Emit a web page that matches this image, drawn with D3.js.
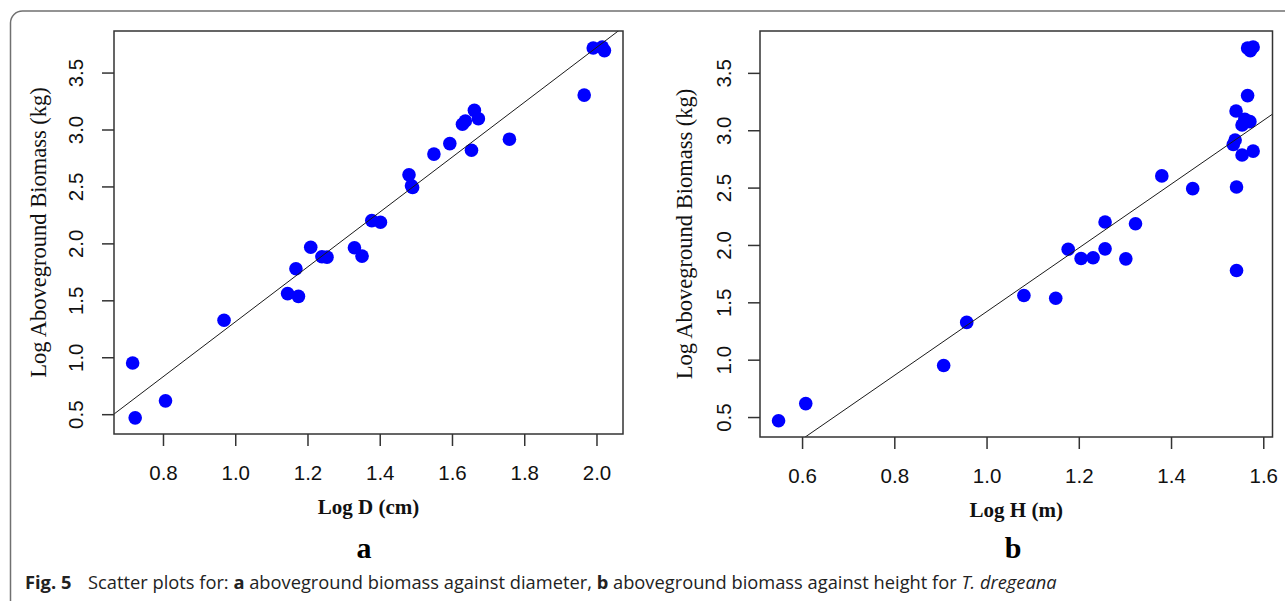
<!DOCTYPE html>
<html lang="en">
<head>
  <meta charset="UTF-8">
  <title>Fig. 5 - Scatter plots for T. dregeana</title>
  <script src="https://d3js.org/d3.v7.min.js"></script>
  <style>
    body {
      margin: 0;
      background-color: #fff;
    }
    svg {
      display: block;
    }
  </style>
</head>
<body>
<script>
  // one entry per tree, the same order in every array
  const logAGB = [0.468, 0.617, 0.949, 1.325, 1.535, 1.559, 1.777, 1.879, 1.882, 1.888,
                  1.962, 1.966, 2.185, 2.200, 2.491, 2.505, 2.602, 2.784, 2.818, 2.876,
                  2.915, 3.046, 3.075, 3.095, 3.168, 3.302, 3.693, 3.716, 3.725];
  const logD   = [0.723, 0.807, 0.716, 0.969, 1.175, 1.145, 1.168, 1.254, 1.240, 1.351,
                  1.330, 1.209, 1.402, 1.378, 1.491, 1.488, 1.481, 1.550, 1.654, 1.594,
                  1.759, 1.629, 1.637, 1.673, 1.662, 1.966, 2.022, 1.991, 2.016];
  const logH   = [0.549, 0.608, 0.907, 0.957, 1.150, 1.081, 1.542, 1.302, 1.205, 1.231,
                  1.177, 1.257, 1.323, 1.257, 1.447, 1.542, 1.380, 1.554, 1.578, 1.535,
                  1.539, 1.554, 1.571, 1.560, 1.541, 1.566, 1.572, 1.566, 1.578];

  // fitted lines: logAGB = a + b * x
  const fitD = { a: -1.100, b: 2.410 };
  const fitH = { a: -1.360, b: 2.778 };

  const xTicksD = [0.8, 1.0, 1.2, 1.4, 1.6, 1.8, 2.0];
  const xTicksH = [0.6, 0.8, 1.0, 1.2, 1.4, 1.6];
  const yTicks  = [0.5, 1.0, 1.5, 2.0, 2.5, 3.0, 3.5];

  const W = 1285, H = 601;
  const yDomain = [0.326, 3.865];
  const fmt = d3.format(".1f");

  const svg = d3.select("body").append("svg")
    .attr("width", W)
    .attr("height", H);

  // outer figure frame (runs off the right and bottom edges)
  svg.append("rect")
    .attr("x", 10.5).attr("y", 11)
    .attr("width", 1320).attr("height", 640)
    .attr("rx", 12)
    .attr("fill", "none")
    .attr("stroke", "#707070")
    .attr("stroke-width", 1.5);

  const drawPanel = (opt) => {
    const { left, right, top, bottom } = opt.box;
    const x = d3.scaleLinear().domain(opt.xDomain).range([left, right]);
    const y = d3.scaleLinear().domain(yDomain).range([bottom, top]);
    const g = svg.append("g");

    g.append("clipPath").attr("id", opt.id + "-clip")
      .append("rect")
      .attr("x", left).attr("y", top)
      .attr("width", right - left).attr("height", bottom - top);

    g.selectAll("circle")
      .data(d3.zip(opt.xs, logAGB))
      .join("circle")
      .attr("cx", d => x(d[0]))
      .attr("cy", d => y(d[1]))
      .attr("r", 6.8)
      .attr("fill", "#0000ff");

    g.append("path")
      .datum(opt.xDomain)
      .attr("clip-path", `url(#${opt.id}-clip)`)
      .attr("d", d3.line().x(d => x(d)).y(d => y(opt.fit.a + opt.fit.b * d)))
      .attr("fill", "none")
      .attr("stroke", "#1a1a1a")
      .attr("stroke-width", 1);

    const xAxis = g.append("g")
      .attr("transform", `translate(0,${bottom})`)
      .attr("color", "#333")
      .call(d3.axisBottom(x).tickValues(opt.xTicks).tickFormat(fmt).tickSize(12).tickSizeOuter(0));
    xAxis.select(".domain").remove();
    xAxis.selectAll("line").attr("stroke-width", 1.5);
    xAxis.selectAll("text")
      .attr("y", 39).attr("dy", "0.35em")
      .attr("fill", "#111")
      .style("font-family", "'Liberation Sans', Arial, sans-serif")
      .style("font-size", "20.5px");

    const yAxis = g.append("g")
      .attr("transform", `translate(${left},0)`)
      .attr("color", "#333")
      .call(d3.axisLeft(y).tickValues(yTicks).tickFormat(fmt).tickSize(12).tickSizeOuter(0));
    yAxis.select(".domain").remove();
    yAxis.selectAll("line").attr("stroke-width", 1.5);
    yAxis.selectAll("text")
      .attr("transform", "rotate(-90)")
      .attr("x", 0).attr("y", -opt.yLabelOffset).attr("dy", "0.35em")
      .attr("text-anchor", "middle")
      .attr("fill", "#111")
      .style("font-family", "'Liberation Sans', Arial, sans-serif")
      .style("font-size", "20.5px");

    g.append("rect")
      .attr("x", left).attr("y", top)
      .attr("width", right - left).attr("height", bottom - top)
      .attr("fill", "none")
      .attr("stroke", "#333")
      .attr("stroke-width", 1.5);

    const cx = (left + right) / 2;
    g.append("text")
      .attr("x", cx).attr("y", opt.xTitleY)
      .attr("text-anchor", "middle")
      .style("font-family", "'Liberation Serif', 'Times New Roman', serif")
      .style("font-weight", "bold")
      .style("font-size", "21px")
      .attr("fill", "#111")
      .text(opt.xTitle);

    g.append("text")
      .attr("transform", `translate(${opt.yTitleX},${(top + bottom) / 2}) rotate(-90)`)
      .attr("text-anchor", "middle")
      .style("font-family", "'Liberation Serif', 'Times New Roman', serif")
      .style("font-size", "22.5px")
      .attr("fill", "#111")
      .text("Log Aboveground Biomass (kg)");

    g.append("text")
      .attr("x", opt.letterX).attr("y", 558)
      .attr("text-anchor", "middle")
      .style("font-family", "'Liberation Serif', 'Times New Roman', serif")
      .style("font-weight", "bold")
      .style("font-size", "30px")
      .attr("fill", "#000")
      .text(opt.letter);
  };

  drawPanel({
    id: "a", xs: logD, fit: fitD, xTicks: xTicksD,
    xDomain: [0.6644, 2.0734],
    box: { left: 114, right: 623, top: 31, bottom: 434 },
    yLabelOffset: 38, yTitleX: 46, xTitleY: 514,
    xTitle: "Log D (cm)", letter: "a", letterX: 364
  });

  drawPanel({
    id: "b", xs: logH, fit: fitH, xTicks: xTicksH,
    xDomain: [0.5088, 1.620],
    box: { left: 760, right: 1272.5, top: 31, bottom: 437 },
    yLabelOffset: 36.5, yTitleX: 692, xTitleY: 517,
    xTitle: "Log H (m)", letter: "b", letterX: 1013
  });

  // caption
  const cap = svg.append("text")
    .attr("x", 25).attr("y", 589)
    .style("font-family", "'Open Sans', 'Noto Sans', sans-serif")
    .style("font-size", "18.3px")
    .attr("fill", "#222");
  cap.append("tspan").style("font-weight", "bold").text("Fig. 5");
  cap.append("tspan").attr("x", 88).text("Scatter plots for: ");
  cap.append("tspan").style("font-weight", "bold").text("a");
  cap.append("tspan").text(" aboveground biomass against diameter, ");
  cap.append("tspan").style("font-weight", "bold").text("b");
  cap.append("tspan").text(" aboveground biomass against height for ");
  cap.append("tspan").style("font-style", "italic").text("T. dregeana");
</script>
</body>
</html>
